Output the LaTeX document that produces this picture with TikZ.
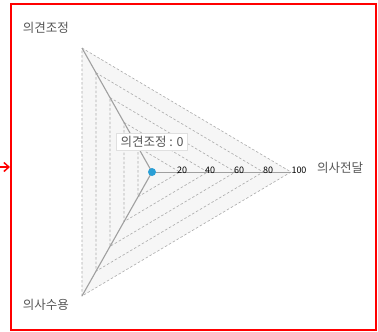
\documentclass[tikz,border=0pt]{standalone}
\usepackage{fontspec}
\setmainfont{Noto Sans CJK KR}
\usetikzlibrary{arrows.meta,calc}
\definecolor{lbl}{HTML}{555555}
\definecolor{gridc}{HTML}{AAAAAA}
\definecolor{fillc}{HTML}{F6F6F6}
\definecolor{datac}{HTML}{A0A0A0}
\definecolor{markc}{HTML}{2A9FD6}
\tikzset{
  gridline/.style={draw=gridc, dash pattern=on 2.5pt off 2pt, line width=0.6pt},
  axlbl/.style={text=lbl, font=\fontsize{12.5}{14}\selectfont, inner sep=0pt},
  ticklbl/.style={text=black, font=\fontsize{9}{10}\selectfont, inner sep=0pt},
  tipbox/.style={draw=black!12, fill=white, text=lbl, font=\fontsize{12.5}{14}\selectfont, inner xsep=4pt, inner ysep=3pt},
}
\begin{document}
\begin{tikzpicture}[x=1pt,y=-1pt]
\useasboundingbox (0,0) rectangle (378,332);
% frame
\draw[red, line width=2pt] (11,4) rectangle (376,330);
\coordinate (arrs) at (0,167);
\coordinate (arre) at (10,167);
\draw[red, line width=1.5pt, -{Straight Barb[length=5pt,width=9pt]}] (arrs) -- (arre);
% geometry
\coordinate (ctr) at (152,172);
\coordinate (vtop) at (82,48);
\coordinate (vright) at (291,172);
\coordinate (vbot) at (82,296);
\fill[fillc] (vtop) -- (vright) -- (vbot) -- cycle;
\foreach \s in {0.2,0.4,0.6,0.8,1.0}{
  \draw[gridline] ($(ctr)!\s!(vtop)$) -- ($(ctr)!\s!(vright)$) -- ($(ctr)!\s!(vbot)$) -- cycle;
}
% axis
\draw[datac, line width=0.8pt] (ctr) -- (vright);
% data
\draw[datac, line width=1.1pt] (vtop) -- (ctr) -- (vbot);
% tick labels
\node[ticklbl] (t20) at (182,170) {20};
\node[ticklbl] (t40) at (210,170) {40};
\node[ticklbl] (t60) at (239,170) {60};
\node[ticklbl] (t80) at (268,170) {80};
\node[ticklbl] (t100) at (299,170) {100};
% axis labels
\node[axlbl] (l1) at (46,28) {의견조정};
\node[axlbl] (l2) at (340,168) {의사전달};
\node[axlbl] (l3) at (46,305) {의사수용};
% tooltip
\node[tipbox] (tip) at (152,142) {의견조정 : 0};
% marker
\fill[markc] (ctr) circle (4);
\end{tikzpicture}
\end{document}
